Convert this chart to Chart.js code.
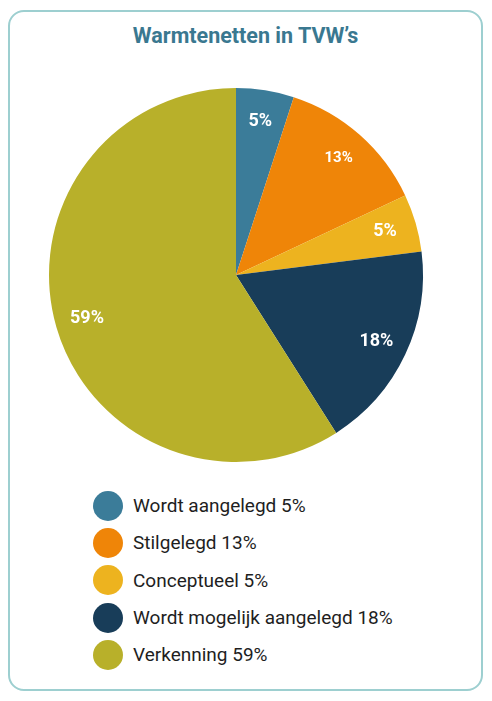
<!DOCTYPE html>
<html>
<head>
<meta charset="utf-8">
<script src="https://cdn.jsdelivr.net/npm/chart.js@4.4.1/dist/chart.umd.min.js"></script>
<style>
  html, body { margin: 0; padding: 0; background: #fff; }
  body { width: 492px; height: 701px; position: relative; overflow: hidden; font-family: Roboto, "Noto Sans", sans-serif; }
  #card {
    position: absolute; left: 8px; top: 10px; width: 471px; height: 677px;
    border: 2px solid #9dcfd0; border-radius: 16px;
  }
  #title {
    position: absolute; left: 8px; top: 23px; width: 475px; text-align: center;
    font-size: 21.5px; font-weight: bold; color: #3a7890;
  }
  #wrap { position: absolute; left: 0; top: 80px; width: 472px; height: 390px; }
  #legend { position: absolute; left: 93px; top: 487px; }
  .item { display: flex; align-items: center; height: 37.3px; font-size: 19px; color: #1e1e1e; }
  .dot { width: 30px; height: 30px; border-radius: 50%; margin-right: 10px; flex: none; }
</style>
</head>
<body>
<div id="card"></div>
<div id="title">Warmtenetten in TVW’s</div>
<div id="wrap"><canvas id="pieChart"></canvas></div>
<div id="legend"></div>
<script>
const categories = ["Wordt aangelegd", "Stilgelegd", "Conceptueel", "Wordt mogelijk aangelegd", "Verkenning"];
const shares = [5, 13, 5, 18, 59];
const colors = ["#3b7c99", "#ef8508", "#edb31f", "#183d59", "#b8b02a"];

// percentage text inside each slice
const sliceLabels = {
    id: "sliceLabels",
    afterDatasetsDraw(chart, args, opts) {
        const ctx = chart.ctx;
        const meta = chart.getDatasetMeta(0);
        ctx.save();
        ctx.fillStyle = "#fff";
        ctx.textAlign = "center";
        ctx.textBaseline = "middle";
        meta.data.forEach((arc, i) => {
            const p = arc.getProps(["x", "y", "startAngle", "endAngle", "outerRadius"], true);
            const mid = (p.startAngle + p.endAngle) / 2;
            const r = p.outerRadius * opts.dist;
            const size = i === 1 ? 15 : 18;
            ctx.font = "bold " + size + "px Roboto";
            ctx.fillText(shares[i] + "%", p.x + Math.cos(mid) * r, p.y + Math.sin(mid) * r);
        });
        ctx.restore();
    }
};

const chart = new Chart(document.getElementById("pieChart"), {
    type: "pie",
    data: {
        labels: categories,
        datasets: [{
            data: shares,
            backgroundColor: colors,
            borderWidth: 0,
            hoverOffset: 0
        }]
    },
    options: {
        responsive: true,
        maintainAspectRatio: false,
        animation: false,
        layout: { padding: { top: 8, bottom: 8 } },
        plugins: {
            legend: { display: false },
            tooltip: { enabled: false },
            sliceLabels: { dist: 0.83 }
        }
    },
    plugins: [sliceLabels]
});

let legend = document.getElementById("legend");
categories.forEach((c, i) => {
    let row = document.createElement("div");
    row.className = "item";
    row.innerHTML = '<span class="dot" style="background:' + colors[i] + '"></span>' + c + " " + shares[i] + "%";
    legend.appendChild(row);
});
</script>
</body>
</html>
